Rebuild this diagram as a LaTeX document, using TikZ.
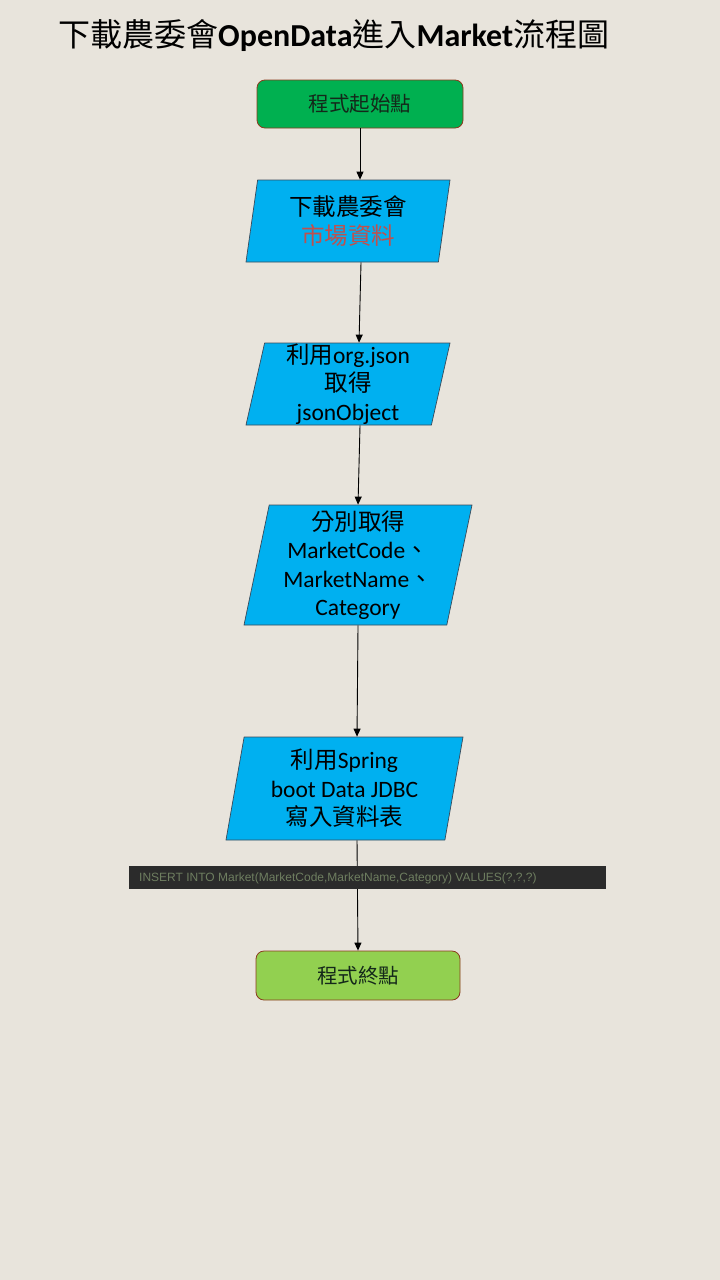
\documentclass[tikz,border=0pt]{standalone}
\usepackage{fontspec}
\setmainfont{Carlito}
\newfontfamily\cjk{Noto Sans CJK TC}
\newfontfamily\arialf{Liberation Sans}
\usetikzlibrary{shapes.geometric,arrows.meta}
\definecolor{bgc}{HTML}{E8E4DC}
\definecolor{startg}{HTML}{00B050}
\definecolor{endg}{HTML}{92D050}
\definecolor{rbord}{HTML}{8B3A1E}
\definecolor{paraf}{HTML}{00B0F0}
\definecolor{parab}{HTML}{3A4A5A}
\definecolor{redt}{HTML}{C0504D}
\definecolor{bardark}{HTML}{2B2B2B}
\definecolor{sqlt}{HTML}{6E7E60}
\definecolor{termt}{HTML}{14281A}
\begin{document}
\begin{tikzpicture}[x=1pt,y=-1pt,
  termbox/.style={draw=rbord, line width=0.8pt, rounded corners=8pt, inner sep=0pt,
    text=termt, font=\cjk\fontsize{20.5}{24}\selectfont},
  parabox/.style={shape=trapezium, trapezium left angle=77, trapezium right angle=103,
    trapezium stretches body=true, draw=parab, line width=0.7pt, fill=paraf,
    inner sep=0pt, align=center, text=black, font=\fontsize{23.5}{28.5}\selectfont},
  arr/.style={draw=black, line width=0.9pt, -{Triangle[length=8pt,width=7pt]}},
  sqlbar/.style={fill=bardark, inner sep=0pt, minimum width=477pt, minimum height=23pt}
]
\fill[bgc] (0,0) rectangle (720,1280);
\useasboundingbox (0,0) rectangle (720,1280);

\node[anchor=west, inner sep=0pt, font=\fontsize{32}{38}\selectfont] (title) at (58,36)
  {{\cjk 下載農委會}\textbf{OpenData}{\cjk 進入}\textbf{Market}{\cjk 流程圖}};

\node[termbox, fill=startg, minimum width=206pt, minimum height=48pt] (s) at (360,104) {程式起始點};

\node[parabox, minimum width=204pt, minimum height=82pt] (p1) at (348,221)
  {{\cjk 下載農委會}\\{\cjk\color{redt} 市場資料}};

\node[parabox, minimum width=204pt, minimum height=82pt] (p2) at (348,384)
  {{\cjk 利用}org.json\\{\cjk 取得}\\jsonObject};

\node[parabox, minimum width=228pt, minimum height=120pt] (p3) at (358,565)
  {{\cjk 分別取得}\\MarketCode{\cjk 、}\\MarketName{\cjk 、}\\Category};

\node[parabox, minimum width=237pt, minimum height=103pt] (p4) at (344.5,788.5)
  {{\cjk 利用}Spring\\boot Data JDBC\\{\cjk 寫入資料表}};

\node[termbox, fill=endg, minimum width=204pt, minimum height=49pt] (e) at (358,975.5) {程式終點};

\draw[arr] (s.south) -- (s.south |- p1.north);
\draw[arr] ([xshift=13pt]p1.south) -- ([xshift=11pt]p2.north);
\draw[arr] ([xshift=12pt]p2.south) -- (p3.north);
\draw[arr] (p3.south) -- ([xshift=12.5pt]p4.north);
\draw[arr] ([xshift=12.5pt]p4.south) -- (e.north);

\node[sqlbar] (bar) at (367.5,877.5) {};
\node[anchor=west, inner sep=0pt, text=sqlt, font=\arialf\fontsize{12}{14}\selectfont] (sql) at (139,878)
  {INSERT INTO Market(MarketCode,MarketName,Category) VALUES(?,?,?)};
\end{tikzpicture}
\end{document}
